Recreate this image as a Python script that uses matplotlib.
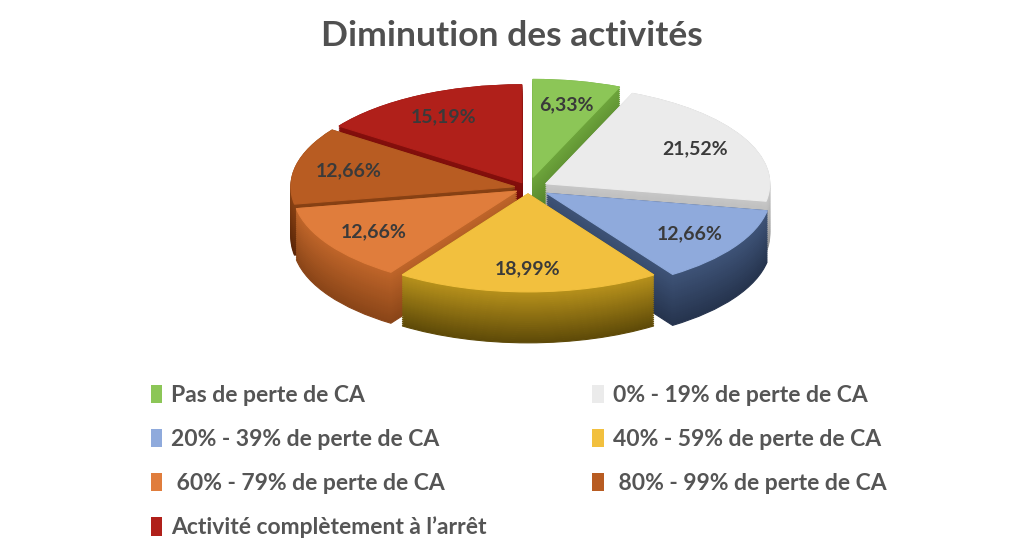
import numpy as np
import matplotlib
matplotlib.use("Agg")
import matplotlib.pyplot as plt
from matplotlib.patches import Patch
from matplotlib.colors import to_rgb

plt.rcParams['font.family'] = ['Lato', 'DejaVu Sans']

# data
categories = ["Pas de perte de CA", "0% - 19% de perte de CA", "20% - 39% de perte de CA",
              "40% - 59% de perte de CA", " 60% - 79% de perte de CA", " 80% - 99% de perte de CA",
              "Activité complètement à l\u2019arrêt"]
values = [6.33, 21.52, 12.66, 18.99, 12.66, 12.66, 15.19]
pct_labels = ["6,33%", "21,52%", "12,66%", "18,99%", "12,66%", "12,66%", "15,19%"]

top_colors = ["#8cc657", "#ebebeb", "#8faadc", "#f2c03e", "#e07d3c", "#b85c22", "#b0201a"]
side_top = ["#6ea63c", "#c8c8c8", "#3f5478", "#b8921c", "#c0662a", "#8a4214", "#860f0c"]
side_bot = ["#4f7a28", "#9a9a9a", "#26344e", "#5e4a08", "#8a4518", "#5a2608", "#5a0606"]
explode = [0.11, 0.09, 0.10, 0.06, 0.06, 0.06, 0.06]

depth = 0.52
n_layers = 26

fig = plt.figure(figsize=(10.24, 5.51), dpi=100)
ax = fig.add_axes([0, 0, 1, 1])

# painter order: slices further back drawn first
frac = np.array(values) / sum(values)
mid = np.deg2rad(90 - 360 * (np.cumsum(frac) - frac / 2))
rank = np.argsort(np.argsort(-np.sin(mid)))

for k in range(n_layers):
    off = -depth * (1 - k / (n_layers - 1))
    t = k / (n_layers - 1)
    cols = [tuple(np.array(to_rgb(b)) * (1 - t) + np.array(to_rgb(a)) * t)
            for a, b in zip(side_top, side_bot)]
    wedges, _ = ax.pie(values, colors=cols, startangle=90, counterclock=False,
                       explode=explode, center=(0, off),
                       wedgeprops=dict(linewidth=0.8, edgecolor='none'))
    for i, w in enumerate(wedges):
        w.set_zorder(rank[i] * 100 + k)
        w.set_edgecolor(cols[i])

wedges, texts, autotexts = ax.pie(values, colors=top_colors, startangle=90, counterclock=False,
                                  explode=explode, autopct='%1.2f%%', pctdistance=0.76,
                                  wedgeprops=dict(linewidth=0.8))
for i, w in enumerate(wedges):
    w.set_zorder(rank[i] * 100 + 99)
    w.set_edgecolor(top_colors[i])
for i, t in enumerate(autotexts):
    t.set_text(pct_labels[i])
    t.set_color("#3a3a3a")
    t.set_fontsize(14)
    t.set_fontweight('bold')
    t.set_zorder(2000)

ax.set_aspect('auto')
ax.set_xlim(-528 / 224, (1024 - 528) / 224)
ax.set_ylim((188 - 551) / 98, 188 / 98)
ax.axis('off')

fig.text(0.5, 1 - 36 / 551, "Diminution des activités", ha='center', va='center',
         fontsize=25.5, fontweight='bold', color="#505050")

order = [0, 2, 4, 6, 1, 3, 5]
handles = [Patch(facecolor=top_colors[i], edgecolor='none', label=categories[i]) for i in order]
fig.legend(handles=handles, ncol=2, loc='upper left', bbox_to_anchor=(130 / 1024, 1 - 364 / 551),
           frameon=False, handlelength=0.5, handleheight=0.85, handletextpad=0.4,
           columnspacing=4.6, labelspacing=1.0,
           prop=dict(weight='bold', size=16.5), labelcolor="#555555")

fig.savefig("out.png", dpi=100)
